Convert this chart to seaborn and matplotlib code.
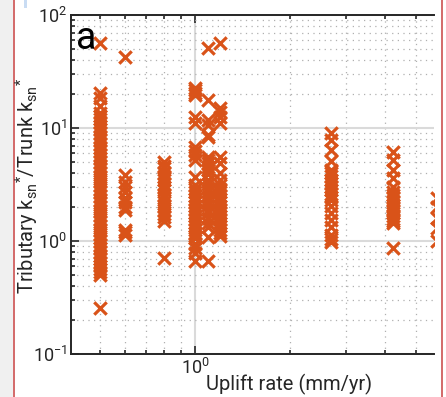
import numpy as np
import pandas as pd
import matplotlib
matplotlib.use('Agg')
import matplotlib.pyplot as plt
import matplotlib.ticker as mticker
from matplotlib.patches import Rectangle
from matplotlib.lines import Line2D
import seaborn as sns

# uplift rate (mm/yr) of each column and the ksn ratios
uplift_a = 0.5
ratio_a = [56, 20.5, 18.5, 15.5, 13.6, 12.8, 12.0, 11.2, 10.5, 9.8, 9.0, 8.4, 7.8, 7.2,
           6.7, 6.2, 5.8, 5.4, 5.0, 4.6, 4.3, 4.0, 3.7, 3.4, 3.15, 2.9, 2.7, 2.5, 2.3,
           2.15, 2.0, 1.85, 1.7, 1.58, 1.46, 1.35, 1.25, 1.16, 1.07, 1.0, 0.93, 0.86,
           0.8, 0.74, 0.69, 0.64, 0.6, 0.56, 0.53, 0.5, 0.255]
uplift_b = 0.6
ratio_b = [42.5, 3.8, 3.3, 3.0, 2.7, 2.4, 2.2, 2.0, 1.9, 1.25, 1.2, 1.13]
uplift_c = 0.8
ratio_c = [5.0, 4.6, 4.4, 4.0, 3.7, 3.5, 3.2, 3.0, 2.8, 2.55, 2.4, 2.2, 2.05, 1.9,
           1.75, 1.63, 1.5, 0.71]
uplift_d = 1.0
ratio_d = [22.7, 21.5, 20.5, 19.6, 12.5, 11.1, 6.8, 6.2, 5.8, 5.2, 3.7, 3.1, 2.9, 2.7,
           2.5, 2.35, 2.2, 2.05, 1.9, 1.78, 1.66, 1.55, 1.45, 1.35, 1.26, 1.18, 1.1,
           1.06, 0.95, 0.87, 0.78, 0.67]
uplift_e = 1.1
ratio_e = [51, 17.6, 11.8, 10.6, 8.7, 8.3, 5.5, 5.2, 4.9, 4.5, 4.25, 3.9, 3.46, 3.2,
           2.95, 2.7, 2.45, 2.25, 2.08, 1.9, 1.77, 1.6, 1.45, 1.33, 1.08, 0.67]
uplift_f = 1.2
ratio_f = [56.5, 15.0, 13.8, 12.5, 11.1, 5.5, 4.9, 4.0, 3.46, 3.1, 2.9, 2.7, 2.5, 2.35,
           2.2, 2.05, 1.9, 1.78, 1.66, 1.55, 1.45, 1.35, 1.26, 1.18, 1.1]
uplift_g = 2.7
ratio_g = [9.0, 7.8, 6.4, 5.1, 4.25, 4.0, 3.75, 3.5, 3.25, 3.0, 2.8, 2.6, 2.45, 2.3,
           2.04, 1.77, 1.53, 1.33, 1.13, 1.05, 0.97]
uplift_h = 4.25
ratio_h = [6.1, 5.2, 4.25, 3.6, 3.0, 2.7, 2.55, 2.4, 2.25, 2.1, 1.98, 1.88, 1.78, 1.68,
           1.58, 1.5, 1.44, 0.87]
uplift_i = 5.85
ratio_i = [1.0, 1.3, 1.6, 2.0, 2.4]

cols = [(uplift_a, ratio_a), (uplift_b, ratio_b), (uplift_c, ratio_c), (uplift_d, ratio_d),
        (uplift_e, ratio_e), (uplift_f, ratio_f), (uplift_g, ratio_g), (uplift_h, ratio_h),
        (uplift_i, ratio_i)]
df = pd.DataFrame({'uplift': [u for u, r in cols for _ in r],
                   'ratio': [v for u, r in cols for v in r]})

sns.set_style('ticks')
plt.rcParams['font.family'] = ['Roboto', 'DejaVu Sans']
plt.rcParams['mathtext.fontset'] = 'custom'
plt.rcParams['mathtext.rm'] = 'Roboto'
plt.rcParams['mathtext.it'] = 'Roboto:italic'

W, H = 446, 397
fig = plt.figure(figsize=(W / 100, H / 100), dpi=100)
fig.patch.set_facecolor('white')
# screenshot frame bits
fig.patches.append(Rectangle((0, 0), 13 / W, 1, transform=fig.transFigure,
                             facecolor='#f0f0f0', edgecolor='none', zorder=-5))
fig.patches.append(Rectangle((24 / W, 1 - 8 / H), 3 / W, 8 / H, transform=fig.transFigure,
                             facecolor='#c9dcf3', edgecolor='none', zorder=-5))
for xp in (13.5, 442):
    fig.lines.append(Line2D([xp / W, xp / W], [0, 1], transform=fig.transFigure,
                            color='#cc5050', lw=1.2, zorder=-4))

ax = fig.add_axes([71 / W, 43 / H, (434 - 71) / W, (354 - 15) / H])
sns.scatterplot(data=df, x='uplift', y='ratio', ax=ax, marker='x', s=80,
                color='#D95319', linewidth=2.3, legend=False, zorder=3)

ax.set_xscale('log')
ax.set_yscale('log')
ax.set_xlim(0.405, 5.71)
ax.set_ylim(0.1, 100)

ax.xaxis.set_major_locator(mticker.FixedLocator([1.0]))
ax.xaxis.set_minor_locator(mticker.LogLocator(base=10, subs=np.arange(2, 10)))
ax.xaxis.set_minor_formatter(mticker.NullFormatter())
ax.yaxis.set_minor_formatter(mticker.NullFormatter())

ax.grid(True, which='major', color='#dadada', lw=1.5, ls='-')
ax.grid(True, which='minor', color='#b0b0b0', lw=0.9, ls=(0, (1, 3.5)))
ax.set_axisbelow(True)

for s in ('left', 'top', 'bottom'):
    ax.spines[s].set_color('#262626')
    ax.spines[s].set_linewidth(1.4)
ax.spines['right'].set_visible(False)
ax.tick_params(which='both', direction='in', top=True, right=False, colors='#262626',
               labelsize=13, width=1.2)
ax.tick_params(which='major', length=6, pad=3)
ax.tick_params(which='minor', length=3)

ax.set_xlabel('Uplift rate (mm/yr)', fontsize=14.5, color='#262626')
ax.xaxis.set_label_coords(0.60, -0.06)
ax.set_ylabel('')
fig.text(27 / W, 1 - 186 / H,
         r'Tributary $\mathregular{k_{sn}{}^{*}}$/Trunk $\mathregular{k_{sn}{}^{*}}$',
         rotation=90, ha='center', va='center', fontsize=14.5, color='#262626')

ax.text(0.015, 0.985, 'a', transform=ax.transAxes, fontsize=27, color='black',
        ha='left', va='top', zorder=4)

fig.savefig('out.png', dpi=100)
